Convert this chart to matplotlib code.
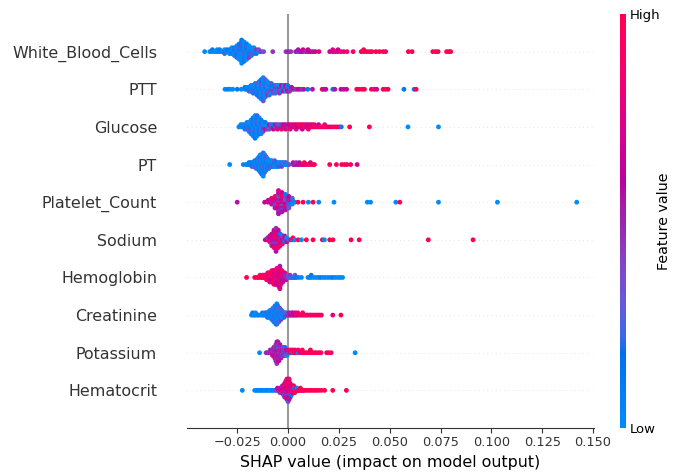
import numpy as np
import matplotlib
matplotlib.use("Agg")
import matplotlib.pyplot as plt
from matplotlib.colors import LinearSegmentedColormap


# feature names, top to bottom
FEATURES = ["White_Blood_Cells", "PTT", "Glucose", "PT", "Platelet_Count",
            "Sodium", "Hemoglobin", "Creatinine", "Potassium", "Hematocrit"]

# each entry: (SHAP value in units of 1e-3, feature value level of every sample
# with that SHAP value, one digit per sample, 0 = low .. 9 = high)
WBC = [(-41.0, "0"), (-38.5, "0"), (-37.2, "01"), (-36.0, "0"), (-34.8, "10"), (-33.6, "01"),
       (-32.4, "0"), (-31.2, "102"), (-30.0, "01"), (-28.8, "010"), (-27.6, "2010"),
       (-26.4, "01020"), (-25.2, "1030102"), (-24.0, "010203010"), (-22.8, "0102010302010"),
       (-21.6, "10203010201"), (-20.4, "020103010"), (-19.2, "3010204"), (-18.0, "01302"),
       (-16.8, "3020"), (-15.6, "241"), (-14.4, "03"), (-13.2, "4"), (-12.0, "3"),
       (-7.5, "4"), (-1.0, "4"), (0.2, "5"), (1.4, "4"), (3.8, "5"), (5.0, "45"), (6.2, "5"),
       (7.4, "56"), (8.6, "4"), (9.8, "56"), (11.0, "6"), (12.2, "5"), (13.4, "6"), (15.2, "7"),
       (20.5, "6"), (22.0, "67"), (23.4, "7"), (24.6, "76"), (26.0, "8"), (27.4, "7"), (29.0, "8"),
       (32.0, "8"), (36.0, "9"), (37.2, "89"), (38.6, "9"), (40.0, "8"), (41.2, "9"), (43.2, "9"),
       (45.0, "9"), (46.8, "9"), (48.0, "8"), (59.2, "9"), (61.0, "9"), (71.2, "9"), (72.6, "9"),
       (73.8, "9"), (78.0, "9"), (79.2, "9"), (80.0, "9")]

PTT = [(-31.0, "0"), (-29.6, "1"), (-28.4, "0"), (-27.2, "0"), (-25.0, "1"), (-23.0, "0"),
       (-21.2, "01"), (-20.2, "10"), (-19.2, "012"), (-18.2, "1020"), (-17.2, "01302"),
       (-16.2, "102010"), (-15.2, "0102031"), (-14.2, "201030102"), (-13.2, "01020304010"),
       (-12.2, "1020301020103"), (-11.2, "0103020103"), (-10.2, "20103040"), (-9.2, "1030302"),
       (-8.2, "024103"), (-7.2, "30413"), (-6.2, "14032"), (-5.2, "4130"), (-4.2, "15304"),
       (-3.2, "0416"), (-2.2, "3170"), (-1.2, "1406"), (-0.2, "6351"), (0.8, "514"), (1.8, "45"),
       (2.8, "5"), (3.8, "4"), (4.8, "5"), (5.8, "6"), (6.8, "4"), (7.8, "5"), (9.7, "1"),
       (12.0, "5"), (16.8, "9"), (17.6, "5"), (18.6, "6"), (22.0, "1"), (23.0, "5"), (26.0, "6"),
       (27.4, "5"), (28.8, "6"), (33.8, "9"), (35.0, "9"), (36.4, "8"), (37.6, "9"), (41.0, "9"),
       (42.4, "8"), (43.6, "6"), (46.8, "9"), (48.0, "8"), (49.2, "9"), (57.0, "1"), (62.0, "1"),
       (63.0, "9")]

GLUCOSE = [(-24.2, "0"), (-23.2, "01"), (-22.2, "10"), (-21.2, "021"), (-20.2, "1020"),
           (-19.2, "01302"), (-18.2, "2010301"), (-17.2, "010203010"), (-16.2, "10203010201"),
           (-15.2, "0102030102"), (-14.2, "20103010"), (-13.2, "0302010"), (-12.2, "10403"),
           (-11.2, "2051"), (-10.2, "304"), (-9.2, "153"), (-8.2, "42"), (-7.2, "516"), (-6.2, "35"),
           (-5.2, "647"), (-4.2, "52"), (-3.2, "748"), (-2.2, "56"), (-1.2, "867"), (0.0, "45"),
           (1.0, "768"), (2.0, "59"), (3.0, "67"), (4.0, "857"), (5.0, "69"), (6.0, "78"),
           (7.0, "596"), (8.0, "89"), (9.0, "67"), (10.0, "958"), (11.0, "79"), (12.0, "86"),
           (13.0, "98"), (14.0, "7"), (15.0, "96"), (16.0, "8"), (17.0, "9"), (18.0, "78"),
           (19.2, "9"), (20.4, "6"), (21.6, "9"), (22.8, "8"), (24.0, "9"), (25.2, "7"), (26.2, "1"),
           (30.3, "9"), (40.0, "9"), (59.0, "0"), (74.0, "0")]

PT = [(-28.7, "0"), (-22.0, "0"), (-20.6, "1"), (-19.9, "0"), (-19.2, "01"), (-18.5, "10"),
      (-17.8, "012"), (-17.1, "102"), (-16.4, "0102"), (-15.7, "10203"), (-15.0, "010201"),
      (-14.3, "20103010"), (-13.6, "0102030100"), (-12.9, "10203010201"), (-12.2, "0102010301020"),
      (-11.5, "2010301020"), (-10.8, "01020103"), (-10.1, "102010"), (-9.4, "01302"), (-8.7, "2010"),
      (-8.0, "0130"), (-7.3, "201"), (-6.6, "0103"), (-5.9, "120"), (-5.2, "012"), (-4.5, "301"),
      (-3.8, "10"), (-3.1, "024"), (-2.4, "10"), (-1.7, "03"), (-1.0, "12"), (-0.3, "0"),
      (0.5, "3"), (2.5, "45"), (3.3, "5"), (4.0, "64"), (4.8, "5"), (5.6, "76"), (6.4, "5"),
      (7.2, "8"), (8.0, "69"), (9.0, "7"), (10.0, "9"), (11.0, "86"), (12.0, "9"), (13.0, "9"),
      (20.5, "9"), (23.8, "8"), (26.4, "9"), (27.8, "9"), (29.0, "8"), (30.8, "9"), (34.0, "6")]

PLATELET = [(-25.0, "5"), (-11.5, "6"), (-9.8, "75"), (-8.1, "6857"), (-6.4, "5746385"),
            (-4.7, "6475836456475"), (-3.0, "47563859465"), (-1.3, "536274815"), (0.4, "3517263"),
            (2.1, "1402"), (3.4, "0"), (4.9, "9"), (7.4, "9"), (10.0, "0"), (12.3, "9"), (15.1, "0"),
            (22.6, "0"), (39.0, "0"), (40.6, "0"), (53.0, "0"), (55.0, "9"), (74.0, "0"),
            (103.0, "0"), (142.0, "0")]

SODIUM = [(-11.2, "5"), (-10.1, "64"), (-9.0, "7586"), (-8.0, "5867465"), (-6.9, "8657486576"),
          (-5.9, "6758465786745"), (-4.8, "5768465786"), (-3.8, "7485617"), (-2.7, "65738"),
          (-1.7, "4615"), (-0.6, "306"), (0.4, "2"), (1.4, "9"), (2.4, "19"), (3.4, "0"), (5.0, "9"),
          (6.6, "0"), (9.0, "9"), (12.3, "9"), (16.9, "9"), (17.9, "0"), (20.5, "9"), (22.1, "9"),
          (31.0, "9"), (35.0, "9"), (69.0, "9"), (91.0, "9")]

HEMOGLOBIN = [(-20.4, "9"), (-16.4, "9"), (-15.4, "8"), (-14.6, "9"), (-13.8, "98"), (-13.0, "9"),
              (-12.4, "98"), (-11.8, "89"), (-11.2, "97"), (-10.6, "898"), (-10.0, "7989"),
              (-9.5, "8797"), (-9.0, "98687"), (-8.5, "7968"), (-8.0, "896978"), (-7.5, "786978"),
              (-7.0, "9687869"), (-6.5, "8796879"), (-6.0, "7968786"), (-5.5, "69785867"),
              (-5.0, "8697586"), (-4.5, "768579685"), (-4.0, "68759678657"), (-3.5, "5786957"),
              (-3.0, "675869"), (-2.5, "58675"), (-2.0, "4756"), (-1.5, "6857"), (-1.0, "546"),
              (-0.5, "35"), (0.0, "43"), (0.5, "3"), (1.0, "24"), (1.6, "3"), (2.2, "1"), (2.8, "2"),
              (3.4, "13"), (4.0, "1"), (5.2, "1"), (6.6, "0"), (9.8, "0"), (10.6, "0"), (11.4, "01"),
              (12.6, "0"), (13.8, "0"), (15.0, "0"), (16.0, "1"), (17.2, "0"), (18.4, "0"),
              (19.6, "0"), (20.8, "0"), (22.0, "1"), (23.2, "0"), (24.4, "0"), (25.6, "0"),
              (26.8, "0")]

CREATININE = [(-18.0, "0"), (-17.4, "01"), (-16.6, "0"), (-16.0, "10"), (-15.0, "0"), (-14.4, "1"),
              (-13.4, "0"), (-12.6, "01"), (-12.0, "0"), (-11.4, "10"), (-10.8, "02"), (-10.2, "010"),
              (-9.6, "102"), (-9.0, "0102"), (-8.5, "2010"), (-8.0, "01030"), (-7.5, "102010"),
              (-7.0, "0201030"), (-6.5, "10203010"), (-6.0, "020103010"), (-5.5, "1020103020"),
              (-5.0, "01020301"), (-4.5, "2010302"), (-4.0, "010203"), (-3.5, "20104"), (-3.0, "0102"),
              (-2.5, "130"), (-2.0, "021"), (-1.5, "40"), (-1.0, "13"), (-0.5, "4"), (0.0, "52"),
              (0.6, "45"), (1.2, "6"), (1.8, "54"), (2.4, "76"), (3.0, "5"), (3.6, "67"), (4.2, "8"),
              (4.8, "67"), (5.6, "9"), (6.4, "8"), (7.2, "79"), (8.0, "9"), (8.8, "8"), (9.6, "9"),
              (10.6, "7"), (11.4, "9"), (12.4, "8"), (13.4, "9"), (14.4, "9"), (15.4, "8"), (16.4, "9"),
              (22.0, "7"), (26.0, "9")]

POTASSIUM = [(-14.0, "0"), (-10.8, "4"), (-10.0, "5"), (-9.4, "4"), (-8.8, "54"), (-8.2, "45"),
             (-7.6, "546"), (-7.0, "4565"), (-6.5, "54645"), (-6.0, "4564535"), (-5.5, "564546354"),
             (-5.0, "45635465"), (-4.5, "5463546"), (-4.0, "364545"), (-3.5, "54635"), (-3.0, "4536"),
             (-2.5, "5463"), (-2.0, "354"), (-1.5, "5041"), (-1.0, "46"), (-0.5, "150"), (0.0, "5"),
             (0.5, "08"), (1.0, "9"), (1.5, "18"), (2.0, "9"), (2.5, "08"), (3.0, "9"), (3.5, "98"),
             (4.0, "9"), (5.0, "08"), (6.0, "9"), (7.0, "89"), (8.0, "9"), (9.0, "8"), (10.0, "9"),
             (11.0, "89"), (12.0, "9"), (13.0, "8"), (14.0, "9"), (15.2, "9"), (16.2, "8"),
             (19.0, "9"), (20.0, "9"), (21.2, "8"), (33.0, "0")]

HEMATOCRIT = [(-22.5, "0"), (-16.4, "0"), (-15.6, "0"), (-14.8, "1"), (-14.0, "0"), (-13.2, "0"),
              (-12.4, "1"), (-11.6, "0"), (-10.8, "0"), (-10.0, "1"), (-9.2, "0"), (-8.4, "0"),
              (-7.6, "1"), (-6.6, "0"), (-5.8, "4"), (-5.2, "35"), (-4.6, "6"), (-4.0, "574"),
              (-3.4, "6"), (-2.8, "7584"), (-2.2, "56475"), (-1.7, "6857264"), (-1.1, "57486957"),
              (-0.55, "7586497568"), (0.0, "68574859673"), (0.55, "5869476857"), (1.1, "7586495"),
              (1.7, "68571"), (2.2, "9576"), (2.8, "8169"), (3.3, "709"), (3.9, "86"), (4.4, "90"),
              (5.0, "8"), (5.5, "9"), (6.1, "89"), (6.6, "9"), (7.2, "8"), (7.7, "9"), (8.3, "9"),
              (9.4, "8"), (10.5, "9"), (11.6, "9"), (12.7, "8"), (13.8, "9"), (15.0, "9"), (16.4, "9"),
              (18.0, "9"), (22.0, "9"), (28.7, "9")]

ROWS = [WBC, PTT, GLUCOSE, PT, PLATELET, SODIUM, HEMOGLOBIN, CREATININE, POTASSIUM, HEMATOCRIT]


def lch_to_rgb(l, c, h):
    a, b = c * np.cos(h), c * np.sin(h)
    fy = (l + 16) / 116
    fx, fz = fy + a / 500, fy - b / 200

    def finv(t):
        return t ** 3 if t > 6 / 29 else 3 * (6 / 29) ** 2 * (t - 4 / 29)

    xyz = np.array([0.95047 * finv(fx), finv(fy), 1.08883 * finv(fz)])
    m = np.array([[3.2406, -1.5372, -0.4986],
                  [-0.9689, 1.8758, 0.0415],
                  [0.0557, -0.2040, 1.0570]])
    rgb = m @ xyz
    rgb = np.where(rgb > 0.0031308, 1.055 * np.abs(rgb) ** (1 / 2.4) - 0.055, 12.92 * rgb)
    return np.clip(rgb, 0, 1)


def red_blue_cmap(nsteps=100):
    # blue -> purple -> red in Lch space, like the shap colormap
    blue_lch = [54.0, 70.0, 4.6588]
    red_lch = [54.0, 90.0, 0.35470565 + 2 * np.pi]
    l_mid = 40.0
    l_vals = list(np.linspace(blue_lch[0], l_mid, nsteps // 2)) + \
        list(np.linspace(l_mid, red_lch[0], nsteps // 2))
    c_vals = np.linspace(blue_lch[1], red_lch[1], nsteps)
    h_vals = np.linspace(blue_lch[2], red_lch[2], nsteps)
    colors = [lch_to_rgb(l, c, h) for l, c, h in zip(l_vals, c_vals, h_vals)]
    return LinearSegmentedColormap.from_list("red_blue", colors)


def expand(row):
    shap, level = [], []
    for value, digits in row:
        for d in digits:
            shap.append(value / 1000.0)
            level.append(int(d) / 9.0)
    return np.array(shap), np.array(level)


def swarm_offsets(vals, nbins=100, row_height=0.4):
    quant = np.round(nbins * (vals - vals.min()) / (vals.max() - vals.min() + 1e-8))
    inds = np.argsort(quant, kind="stable")
    layer, last = 0, -1
    ys = np.zeros(len(vals))
    for i in inds:
        if quant[i] != last:
            layer = 0
        ys[i] = np.ceil(layer / 2) * ((layer % 2) * 2 - 1)
        layer += 1
        last = quant[i]
    ys *= 0.9 * (row_height / np.max(ys + 1))
    return ys


def main():
    cmap = red_blue_cmap()
    axis_color = "#333333"

    fig = plt.figure(figsize=(6.73, 4.72), dpi=100)
    ax = fig.add_axes([187 / 673, 44 / 472, 407 / 673, 414 / 472])

    n = len(FEATURES)
    for k, row in enumerate(ROWS):
        pos = n - 1 - k
        shap, level = expand(row)
        ys = swarm_offsets(shap)
        ax.axhline(pos, color="#cccccc", lw=0.5, dashes=(1, 5), zorder=-1)
        ax.scatter(shap, pos + ys, c=level, cmap=cmap, vmin=0, vmax=1,
                   s=12, linewidths=0, alpha=1, zorder=3, rasterized=True)

    ax.axvline(0, color="#999999", lw=1.5, zorder=-1)

    ax.set_xlim(-0.0497, 0.1505)
    ax.set_ylim(-1, n)
    ax.set_yticks(range(n))
    ax.set_yticklabels(FEATURES[::-1], fontsize=11.4)
    ax.set_xticks([-0.025, 0.0, 0.025, 0.05, 0.075, 0.1, 0.125, 0.15])
    ax.set_xticklabels(["\u22120.025", "0.000", "0.025", "0.050", "0.075", "0.100", "0.125", "0.150"])
    ax.tick_params("y", length=0, pad=21.5, labelcolor=axis_color)
    ax.tick_params("x", labelsize=9.3, color=axis_color, labelcolor=axis_color, length=3.5, pad=2.5)
    for side in ["top", "right", "left"]:
        ax.spines[side].set_visible(False)
    ax.spines["bottom"].set_color(axis_color)
    ax.set_xlabel("SHAP value (impact on model output)", fontsize=11.4, labelpad=4)

    cax = fig.add_axes([620 / 673, 44 / 472, 6 / 673, 414 / 472])
    sm = plt.cm.ScalarMappable(cmap=cmap, norm=plt.Normalize(0, 1))
    cb = fig.colorbar(sm, cax=cax, ticks=[0, 1])
    cb.set_ticklabels(["Low", "High"])
    cb.ax.tick_params(labelsize=9.5, length=0, pad=3)
    cb.set_label("Feature value", size=10.3, labelpad=-3)
    cb.outline.set_visible(False)

    fig.savefig("out.png", dpi=100)


if __name__ == "__main__":
    main()
